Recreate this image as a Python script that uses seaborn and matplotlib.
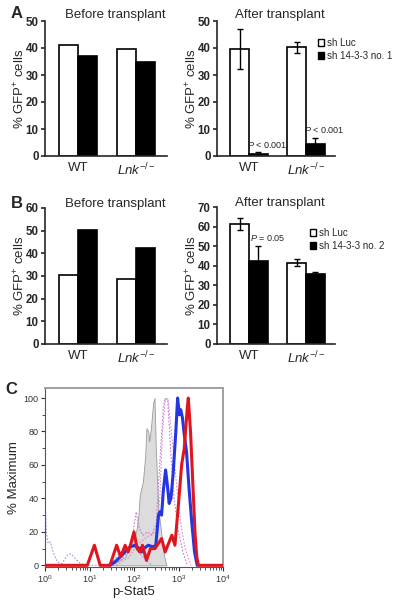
import matplotlib
matplotlib.use("Agg")
import matplotlib.pyplot as plt
import numpy as np
import pandas as pd
import seaborn as sns

# ---- data -------------------------------------------------------------
genotypes = ["WT", "Lnk"]
a_groups = ["sh Luc", "sh 14-3-3 no. 1"]
b_groups = ["sh Luc", "sh 14-3-3 no. 2"]

a_before = [[41.0, 39.5], [37.0, 35.0]]
a_after = [[39.7, 40.2], [0.8, 4.6]]
a_after_err = [[7.3, 2.2], [0.5, 2.0]]
a_pvals = ["< 0.001", "< 0.001"]

b_before = [[30.5, 28.5], [50.3, 42.2]]
b_after = [[61.2, 41.5], [42.5, 36.0]]
b_after_err = [[3.0, 1.7], [7.7, 1.0]]
b_pvals = ["= 0.05", None]

# flow histograms (log10 intensity, % of max)
gray_x = [1.46, 1.6, 1.8, 1.95, 2.05, 2.10, 2.13, 2.20, 2.25, 2.28, 2.32, 2.34, 2.38, 2.43, 2.46,
          2.49, 2.52, 2.55, 2.60, 2.64, 2.68, 2.73]
gray_y = [0, 2, 5, 14, 20, 30, 42, 50, 65, 82, 80, 74, 82, 97, 100, 70, 50, 33, 22, 13, 5, 0]

lav_x = [0.0, 0.03, 0.07, 0.12, 0.18, 0.28, 0.38, 0.5, 0.58, 0.68, 0.8, 0.95, 1.4, 1.55, 1.7,
         1.85, 1.95, 2.05, 2.2, 2.4]
lav_y = [40, 20, 13, 14, 8, 2, 1, 6, 7, 4, 1, 0, 0, 3, 8, 10, 12, 10, 5, 0]

pink1_x = [1.5, 1.7, 1.85, 1.95, 2.05, 2.12, 2.2, 2.3, 2.4, 2.5, 2.6, 2.66, 2.70, 2.76, 2.82,
           2.9, 3.0, 3.1, 3.2]
pink1_y = [0, 3, 8, 15, 32, 22, 18, 20, 18, 25, 70, 95, 100, 98, 70, 40, 20, 8, 0]
pink2_x = [1.6, 1.9, 2.05, 2.2, 2.35, 2.5, 2.58, 2.64, 2.70, 2.76, 2.84, 2.95, 3.05, 3.15, 3.28]
pink2_y = [0, 5, 12, 15, 18, 20, 40, 80, 98, 100, 80, 50, 25, 10, 0]

blue_x = [1.46, 1.57, 1.69, 1.80, 1.91, 2.02, 2.12, 2.17, 2.22, 2.32, 2.43, 2.49, 2.55, 2.58,
          2.62, 2.66, 2.71, 2.75, 2.79, 2.83, 2.88, 2.94, 2.98, 3.02, 3.05, 3.09, 3.13, 3.18,
          3.24, 3.30, 3.36, 3.42]
blue_y = [0, 2, 5, 8, 11, 12, 10, 8, 10, 12, 11, 12, 30, 32, 30, 45, 57, 48, 37, 40, 55, 80,
          100, 90, 93, 88, 78, 68, 45, 25, 8, 0]

red_x = [0.0, 0.95, 1.11, 1.24, 1.46, 1.61, 1.70, 1.80, 1.87, 1.93, 2.00, 2.07, 2.13, 2.19,
         2.28, 2.37, 2.47, 2.62, 2.70, 2.85, 2.92, 3.01, 3.07, 3.13, 3.20, 3.22, 3.27, 3.32,
         3.37, 3.41, 3.45, 4.0]
red_y = [0, 0, 12, 0, 0, 12, 5, 12, 8, 13, 20, 10, 8, 12, 3, 10, 10, 16, 8, 18, 12, 40, 60,
         70, 95, 100, 80, 50, 20, 5, 0, 0]

# ---- style ------------------------------------------------------------
sns.set_style("ticks")
plt.rcParams["font.family"] = ["Liberation Sans", "DejaVu Sans"]
plt.rcParams["mathtext.fontset"] = "custom"
plt.rcParams["mathtext.rm"] = "Liberation Sans"
plt.rcParams["mathtext.it"] = "Liberation Sans:italic"
plt.rcParams["mathtext.bf"] = "Liberation Sans:bold"

fig = plt.figure(figsize=(4.0, 6.06), dpi=100)
W, H = 400.0, 606.0


def add_ax(x0, x1, ytop, ybot):
    return fig.add_axes([x0 / W, 1 - ybot / H, (x1 - x0) / W, (ybot - ytop) / H])


lnk_label = r"$\mathit{Lnk}^{\mathit{-/-}}$"


def bar_panel(ax, values, groups, ymax, step, xlim, err=None, pvals=None):
    df = pd.DataFrame({
        "genotype": genotypes * 2,
        "group": [groups[0]] * 2 + [groups[1]] * 2,
        "value": values[0] + values[1],
    })
    sns.barplot(data=df, x="genotype", y="value", hue="group", palette=["white", "black"],
                edgecolor="black", linewidth=1.2, width=0.66, errorbar=None, legend=False,
                ax=ax)
    bars = [list(c) for c in ax.containers]
    if err is not None:
        for i, cont in enumerate(bars):
            for j, bar in enumerate(cont):
                cx = bar.get_x() + bar.get_width() / 2
                ax.errorbar(cx, values[i][j], yerr=err[i][j], color="black", lw=1.0,
                            capsize=2.0, capthick=1.0)
        if pvals is not None:
            for j, p in enumerate(pvals):
                if p is None:
                    continue
                bar = bars[1][j]
                cx = bar.get_x() + bar.get_width() / 2
                top = values[1][j] + err[1][j]
                ax.text(cx + 0.16, top + ymax * 0.02, r"$\mathit{P}$ " + p, ha="center",
                        va="bottom", fontsize=6.5)
    ax.set_ylim(0, ymax)
    ax.set_yticks(np.arange(0, ymax + 1, step))
    ax.set_xlim(*xlim)
    ax.set_xlabel("")
    ax.set_ylabel(r"% GFP$^{+}$ cells", fontsize=9.5, labelpad=-1)
    ax.set_xticks([0, 1])
    ax.set_xticklabels(["WT", lnk_label], fontsize=9.5)
    ax.tick_params(axis="x", length=0, pad=4)
    ax.tick_params(axis="y", length=3, width=1.2, pad=1.5, labelsize=8.3)
    for lab in ax.get_yticklabels():
        lab.set_fontweight("bold")
    sns.despine(ax=ax)
    for s in ["left", "bottom"]:
        ax.spines[s].set_linewidth(1.2)


axA1 = add_ax(45, 167, 21, 156)
bar_panel(axA1, a_before, a_groups, 50, 10, (-0.57, 1.53))
axA2 = add_ax(217, 335, 21, 156)
bar_panel(axA2, a_after, a_groups, 50, 10, (-0.56, 1.51), a_after_err, a_pvals)
axB1 = add_ax(45, 167, 208, 344)
bar_panel(axB1, b_before, b_groups, 60, 10, (-0.57, 1.53))
axB2 = add_ax(217, 335, 207, 344)
bar_panel(axB2, b_after, b_groups, 70, 10, (-0.56, 1.51), b_after_err, b_pvals)

for ax, grp, (lx, ly) in [(axA2, a_groups, (318, 38)), (axB2, b_groups, (310, 228))]:
    handles = [plt.Rectangle((0, 0), 1, 1, fc=c, ec="black", lw=1.0) for c in ["white", "black"]]
    ax.legend(handles, grp, loc="upper left", bbox_to_anchor=(lx / W, 1 - ly / H),
              bbox_transform=fig.transFigure, frameon=False, fontsize=7.0,
              handlelength=0.6, handleheight=0.6, handletextpad=0.35, labelspacing=0.3,
              borderaxespad=0, borderpad=0)

# titles and panel letters
fig.text(115 / W, 1 - 15 / H, "Before transplant", ha="center", va="center", fontsize=9.5)
fig.text(280 / W, 1 - 15 / H, "After transplant", ha="center", va="center", fontsize=9.5)
fig.text(115 / W, 1 - 204 / H, "Before transplant", ha="center", va="center", fontsize=9.5)
fig.text(280 / W, 1 - 203 / H, "After transplant", ha="center", va="center", fontsize=9.5)
fig.text(17 / W, 1 - 14 / H, "A", ha="center", va="center", fontsize=12, fontweight="bold")
fig.text(17 / W, 1 - 203 / H, "B", ha="center", va="center", fontsize=12, fontweight="bold")
fig.text(11 / W, 1 - 389 / H, "C", ha="center", va="center", fontsize=12, fontweight="bold")

# ---- panel C ------------------------------------------------------------
axC = add_ax(45, 223, 388, 567)
gx = 10 ** np.array(gray_x)
axC.fill_between(gx, gray_y, color="#dcdcdc", ec="#9a9a9a", lw=0.6, zorder=1)
sns.lineplot(x=10 ** np.array(lav_x), y=lav_y, ax=axC, color="#9a9ae0", lw=0.8,
             linestyle=(0, (1.5, 1.5)), estimator=None, sort=False, zorder=2)
sns.lineplot(x=10 ** np.array(pink1_x), y=pink1_y, ax=axC, color="#c07ad8", lw=0.8,
             linestyle=(0, (1.5, 1.5)), estimator=None, sort=False, zorder=2)
sns.lineplot(x=10 ** np.array(pink2_x), y=pink2_y, ax=axC, color="#d890c8", lw=0.8,
             linestyle=(0, (1.5, 1.5)), estimator=None, sort=False, zorder=2)
sns.lineplot(x=10 ** np.array(blue_x), y=blue_y, ax=axC, color="#2535e0", lw=2.2,
             estimator=None, sort=False, zorder=3)
sns.lineplot(x=10 ** np.array(red_x), y=red_y, ax=axC, color="#e0161e", lw=2.2,
             estimator=None, sort=False, zorder=4)
axC.set_xscale("log")
axC.set_xlim(1, 1e4)
axC.set_ylim(-1, 106)
axC.set_yticks(np.arange(0, 101, 20))
axC.set_yticks(np.arange(0, 101, 10), minor=True)
axC.tick_params(axis="both", which="major", length=3, width=0.8, labelsize=6.5,
                colors="#333333", pad=1.5)
axC.tick_params(axis="both", which="minor", length=2, width=0.6, colors="#333333")
axC.set_xlabel("p-Stat5", fontsize=9.5, labelpad=1)
axC.set_ylabel("% Maximum", fontsize=9.5, labelpad=3)
for s in ["left", "bottom"]:
    axC.spines[s].set_color("#555555")
    axC.spines[s].set_linewidth(0.8)
for s in ["top", "right"]:
    axC.spines[s].set_color("#a0a0a0")
    axC.spines[s].set_linewidth(1.4)

fig.savefig("out.png", dpi=100)
